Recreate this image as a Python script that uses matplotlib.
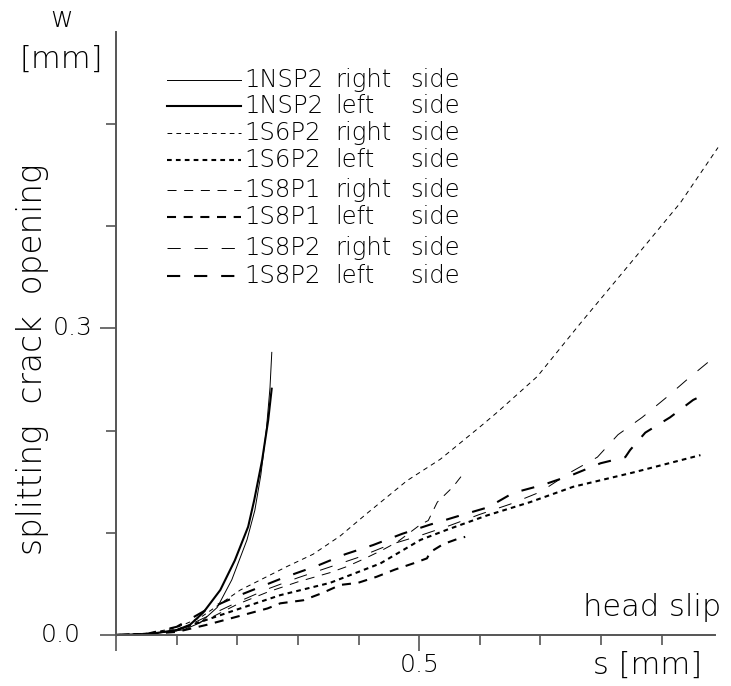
import matplotlib
matplotlib.use("Agg")
import matplotlib.pyplot as plt
from matplotlib.lines import Line2D

plt.rcParams['font.family'] = ['DejaVu Sans']
plt.rcParams['font.weight'] = 200
plt.rcParams['lines.scale_dashes'] = False

# ---- data: head slip s [mm] vs splitting crack opening w [mm] ----
nsp2_right_s = [0.0, 0.056, 0.111, 0.139, 0.167, 0.191, 0.216, 0.229, 0.239, 0.248, 0.254, 0.257]
nsp2_right_w = [0.0, 0.001, 0.005, 0.012, 0.027, 0.054, 0.093, 0.122, 0.157, 0.201, 0.242, 0.277]

nsp2_left_s = [0.0, 0.056, 0.101, 0.122, 0.144, 0.172, 0.196, 0.218, 0.228, 0.241, 0.251, 0.257]
nsp2_left_w = [0.0, 0.001, 0.005, 0.010, 0.022, 0.044, 0.073, 0.106, 0.132, 0.171, 0.210, 0.242]

s6p2_right_s = [0.0, 0.056, 0.099, 0.139, 0.205, 0.282, 0.325, 0.370, 0.414, 0.480, 0.535,
                0.601, 0.629, 0.695, 0.766, 0.853, 0.931, 0.993]
s6p2_right_w = [0.0, 0.002, 0.007, 0.017, 0.044, 0.067, 0.079, 0.097, 0.119, 0.151, 0.172,
                0.204, 0.218, 0.253, 0.305, 0.367, 0.423, 0.477]

s6p2_left_s = [0.0, 0.05, 0.10, 0.15, 0.20, 0.271, 0.353, 0.436, 0.502, 0.546, 0.612,
               0.683, 0.754, 0.853, 0.964]
s6p2_left_w = [0.0, 0.001, 0.005, 0.015, 0.025, 0.039, 0.051, 0.070, 0.093, 0.103, 0.117,
               0.130, 0.145, 0.159, 0.176]

s8p1_right_s = [0.0, 0.05, 0.10, 0.15, 0.20, 0.25, 0.30, 0.353, 0.381, 0.411, 0.439, 0.464,
                0.502, 0.515, 0.530, 0.556, 0.573]
s8p1_right_w = [0.0, 0.001, 0.004, 0.015, 0.030, 0.042, 0.052, 0.061, 0.067, 0.075, 0.083,
                0.091, 0.108, 0.112, 0.130, 0.145, 0.158]

s8p1_left_s = [0.0, 0.05, 0.10, 0.15, 0.20, 0.25, 0.271, 0.309, 0.340, 0.370, 0.399, 0.430,
               0.460, 0.490, 0.513, 0.518, 0.540, 0.568, 0.576]
s8p1_left_w = [0.0, 0.001, 0.003, 0.010, 0.018, 0.026, 0.031, 0.034, 0.041, 0.049, 0.051,
               0.057, 0.064, 0.070, 0.075, 0.081, 0.089, 0.095, 0.096]

s8p2_right_s = [0.0, 0.05, 0.10, 0.15, 0.20, 0.25, 0.30, 0.35, 0.40, 0.45, 0.50, 0.55, 0.60,
                0.65, 0.70, 0.749, 0.794, 0.828, 0.868, 0.909, 0.944, 0.985, 0.993]
s8p2_right_w = [0.0, 0.001, 0.004, 0.018, 0.032, 0.045, 0.056, 0.066, 0.076, 0.088, 0.097,
                0.107, 0.118, 0.128, 0.140, 0.159, 0.174, 0.196, 0.213, 0.233, 0.251, 0.271, 0.274]

s8p2_left_s = [0.0, 0.05, 0.10, 0.15, 0.20, 0.276, 0.333, 0.378, 0.424, 0.472, 0.518, 0.568,
               0.614, 0.655, 0.705, 0.754, 0.799, 0.840, 0.848, 0.873, 0.914, 0.952, 0.959]
s8p2_left_w = [0.0, 0.001, 0.008, 0.025, 0.038, 0.056, 0.068, 0.079, 0.088, 0.099, 0.108, 0.117,
               0.125, 0.139, 0.147, 0.157, 0.168, 0.174, 0.181, 0.198, 0.213, 0.230, 0.232]

specimens = ["1NSP2", "1NSP2", "1S6P2", "1S6P2", "1S8P1", "1S8P1", "1S8P2", "1S8P2"]
sides = ["right", "left", "right", "left", "right", "left", "right", "left"]

series = [
    (nsp2_right_s, nsp2_right_w),
    (nsp2_left_s, nsp2_left_w),
    (s6p2_right_s, s6p2_right_w),
    (s6p2_left_s, s6p2_left_w),
    (s8p1_right_s, s8p1_right_w),
    (s8p1_left_s, s8p1_left_w),
    (s8p2_right_s, s8p2_right_w),
    (s8p2_left_s, s8p2_left_w),
]

thin, thick = 0.7, 1.5
styles = [
    dict(lw=thin, ls='-'),
    dict(lw=thick, ls='-'),
    dict(lw=thin, ls=(0, (3.4, 3.0))),
    dict(lw=thick, ls=(0, (3.4, 3.0))),
    dict(lw=thin, ls=(0, (6.5, 5.5))),
    dict(lw=thick, ls=(0, (6.5, 5.5))),
    dict(lw=thin, ls=(0, (9.5, 10.0))),
    dict(lw=thick, ls=(0, (9.5, 10.0))),
]

W, H = 731, 686
fig = plt.figure(figsize=(W / 100, H / 100), dpi=100)

ax_left, ax_right, ax_top, ax_bottom = 116, 715, 32, 635
ax = fig.add_axes([ax_left / W, 1 - ax_bottom / H,
                   (ax_right - ax_left) / W, (ax_bottom - ax_top) / H])

for (s, w), st in zip(series, styles):
    ax.plot(s, w, color='black', lw=st['lw'], linestyle=st['ls'],
            solid_capstyle='butt', dash_capstyle='butt', clip_on=False)

ax.set_xlim(0, 0.988)
ax.set_ylim(0, 0.59)

axis_col = '#555555'
for side in ['top', 'right']:
    ax.spines[side].set_visible(False)
for side in ['left', 'bottom']:
    ax.spines[side].set_color(axis_col)
    ax.spines[side].set_linewidth(1.4)

ax.set_xticks([0.0, 0.5])
ax.set_xticks([0.1, 0.2, 0.3, 0.4, 0.6, 0.7, 0.8, 0.9], minor=True)
ax.set_yticks([0.0, 0.3])
ax.set_yticks([0.1, 0.2, 0.4, 0.5], minor=True)
ax.set_xticklabels([])
ax.set_yticklabels([])
ax.tick_params(which='major', length=11.5, width=1.2, color=axis_col)
ax.tick_params(which='minor', length=7.5, width=1.2, color=axis_col)

fs_tick = 18
ax.annotate("0.0", xy=(0, 0.0), xycoords='data', xytext=(-35, 0), textcoords='offset pixels',
            ha='right', va='center', fontsize=fs_tick)
ax.annotate("0.3", xy=(0, 0.3), xycoords='data', xytext=(-23, 0), textcoords='offset pixels',
            ha='right', va='center', fontsize=fs_tick)
ax.annotate("0.5", xy=(0.5, 0), xycoords='data', xytext=(0, -30), textcoords='offset pixels',
            ha='center', va='center', fontsize=fs_tick)


def fx(px):
    return px / W


def fy(py):
    return 1 - py / H


fig.text(fx(62), fy(19), "w", ha='center', va='center', fontsize=20)
fig.text(fx(61), fy(59), "[mm]", ha='center', va='center', fontsize=22)
fig.text(fx(33), fy(359), "splitting  crack  opening", ha='center', va='center',
         rotation=90, fontsize=23.5)
fig.text(fx(652), fy(608), "head slip", ha='center', va='center', fontsize=22)
fig.text(fx(648), fy(665), "s [mm]", ha='center', va='center', fontsize=22)

# key
row_y = [80, 106, 133, 160, 190, 217, 248, 276]
fs_key = 17.5
for yk, st, name, sd in zip(row_y, styles, specimens, sides):
    fig.add_artist(Line2D([fx(167), fx(241)], [fy(yk), fy(yk)], color='black',
                          lw=st['lw'], linestyle=st['ls'], dash_capstyle='butt',
                          transform=fig.transFigure))
    fig.text(fx(244), fy(yk), name, ha='left', va='center', fontsize=fs_key)
    fig.text(fx(335), fy(yk), sd, ha='left', va='center', fontsize=fs_key)
    fig.text(fx(410), fy(yk), "side", ha='left', va='center', fontsize=fs_key)

fig.savefig("out.png", dpi=100)
